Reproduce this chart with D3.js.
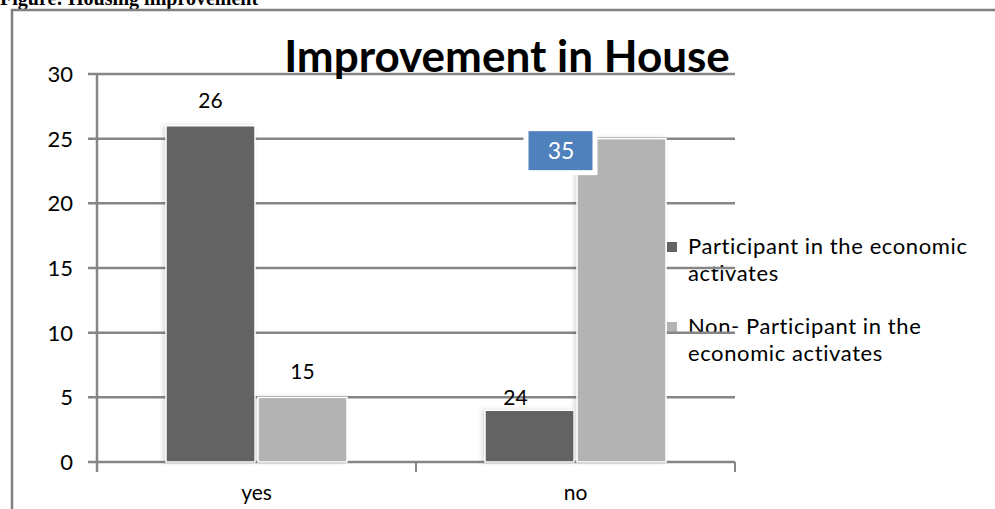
<!DOCTYPE html>
<html>
  <head>
    <meta charset="utf-8" />
    <script src="https://cdn.jsdelivr.net/npm/d3@7"></script>
    <style>
    body { margin: 0; background: #ffffff; }
    .grid line { stroke: #868686; stroke-width: 2.5; }
    .lbl { font-family: Lato, "Open Sans", sans-serif; font-size: 21px; fill: #000; }
    .leg { font-size: 22px; letter-spacing: 0.6px; }
    </style>
  </head>
  <body>
    <div id="chart"></div>
    <script type="text/javascript">
var W = 995, H = 509;

// data
var categories = ["yes", "no"];
var seriesNames = ["Participant in the economic activates", "Non- Participant in the economic activates"];
var participant = [26, 4];
var nonParticipant = [5, 25];
var participantLabels = ["26", "24"];
var nonParticipantLabels = ["15", "35"];
var yTicks = [0, 5, 10, 15, 20, 25, 30];

var colors = ["#636363", "#b3b3b3"];

var svg = d3.select("#chart").append("svg")
    .attr("width", W).attr("height", H);

// heading above the frame (cut off like in the page scan)
svg.append("text")
    .attr("x", 0).attr("y", 5)
    .style("font-family", "'Liberation Serif', 'Times New Roman', serif")
    .style("font-weight", "bold")
    .style("font-size", "20px")
    .text("Figure: Housing improvement");

// frame
svg.append("path")
    .attr("d", "M12," + H + "V10H" + W)
    .attr("fill", "none")
    .attr("stroke", "#808080")
    .attr("stroke-width", 2.5);

var x0 = d3.scaleBand().domain(categories).range([97, 735]).paddingInner(0).paddingOuter(0);
var y = d3.scaleLinear().domain([0, 30]).range([462, 74]);

// legend (under the grid lines)
var legend = svg.append("g").attr("transform", "translate(667,0)");
var legendLines = [["Participant in the economic", "activates"], ["Non- Participant in the", "economic activates"]];
var legendY = [254, 334];
legendLines.forEach(function(lines, i) {
    legend.append("rect")
        .attr("x", 0).attr("y", legendY[i] - 12)
        .attr("width", 10).attr("height", 10)
        .attr("fill", colors[i]);
    lines.forEach(function(t, j) {
        legend.append("text").attr("class", "lbl leg")
            .attr("x", 21).attr("y", legendY[i] + j * 27)
            .text(t);
    });
});

// gridlines
svg.append("g").attr("class", "grid")
    .selectAll("line").data(yTicks).enter().append("line")
    .attr("x1", 88).attr("x2", 735)
    .attr("y1", function(d) { return y(d); })
    .attr("y2", function(d) { return y(d); });

// y axis line
svg.append("line")
    .attr("x1", 97).attr("x2", 97).attr("y1", y(30)).attr("y2", 472)
    .attr("stroke", "#868686").attr("stroke-width", 2.5);

// x ticks
svg.append("g").selectAll("line")
    .data([97].concat(categories.map(function(c) { return x0(c) + x0.bandwidth(); })))
    .enter().append("line")
    .attr("x1", function(d) { return d; }).attr("x2", function(d) { return d; })
    .attr("y1", 462).attr("y2", 472)
    .attr("stroke", "#868686").attr("stroke-width", 2);

// y tick labels
svg.append("g").selectAll("text").data(yTicks).enter().append("text")
    .attr("class", "lbl")
    .style("font-size", "22px")
    .attr("x", 73).attr("y", function(d) { return y(d) + 8; })
    .attr("text-anchor", "end")
    .text(function(d) { return d; });

// x labels
svg.append("g").selectAll("text").data(categories).enter().append("text")
    .attr("class", "lbl")
    .attr("x", function(d) { return x0(d) + x0.bandwidth() / 2; })
    .attr("y", 500)
    .attr("text-anchor", "middle")
    .text(function(d) { return d; });

// bars
var barW = 89, gap = 3;
var groupW = 2 * barW + gap;
var series = [participant, nonParticipant];
var labels = [participantLabels, nonParticipantLabels];

function barX(ci, si) {
    return x0(categories[ci]) + (x0.bandwidth() - groupW) / 2 + si * (barW + gap);
}

series.forEach(function(vals, si) {
    svg.append("g").selectAll("rect").data(vals).enter().append("rect")
        .attr("x", function(d, ci) { return barX(ci, si); })
        .attr("y", function(d) { return y(d); })
        .attr("width", barW)
        .attr("height", function(d) { return y(0) - y(d); })
        .attr("fill", colors[si])
        .attr("stroke", "#ffffff")
        .attr("stroke-width", 1.5)
        .style("filter", "drop-shadow(-2px 0px 2px rgba(0,0,0,0.15))");
});

// data labels
series.forEach(function(vals, si) {
    vals.forEach(function(v, ci) {
        var lx = barX(ci, si) + barW / 2;
        var ly = y(v) - 18;
        if (si === 0 && ci === 1) { ly = y(v) - 5; lx = barX(ci, si) + barW / 2 - 14; }
        if (si === 1 && ci === 1) {
            lx = barX(ci, si) - 16;
            ly = y(v) + 27;
            svg.append("rect")
                .attr("x", lx - 35).attr("y", ly - 37)
                .attr("width", 69).attr("height", 44)
                .attr("fill", "#4f81bd")
                .attr("stroke", "#ffffff").attr("stroke-width", 5);
            svg.append("text").attr("class", "lbl")
                .attr("x", lx).attr("y", ly - 7)
                .attr("text-anchor", "middle")
                .style("fill", "#ffffff")
                .style("font-size", "23px")
                .text(labels[si][ci]);
            return;
        }
        svg.append("text").attr("class", "lbl")
            .attr("x", lx).attr("y", ly)
            .attr("text-anchor", "middle")
            .text(labels[si][ci]);
    });
});

// title
svg.append("text")
    .attr("x", 507).attr("y", 72)
    .attr("text-anchor", "middle")
    .style("font-family", "Lato, 'Open Sans', sans-serif")
    .style("font-weight", "bold")
    .style("font-size", "44px")
    .text("Improvement in House");
    </script>
  </body>
</html>
